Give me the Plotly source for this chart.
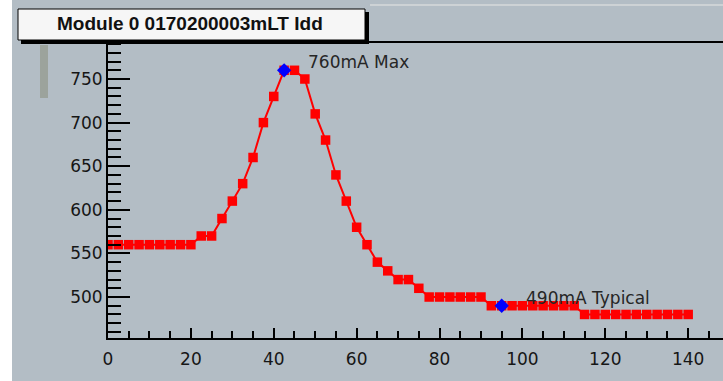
import plotly.graph_objects as go

# Idd current samples (mA) against time step
x_vals = [0, 2.5, 5, 7.5, 10, 12.5, 15, 17.5, 20, 22.5, 25, 27.5, 30, 32.5, 35,
          37.5, 40, 42.5, 45, 47.5, 50, 52.5, 55, 57.5, 60, 62.5, 65, 67.5, 70,
          72.5, 75, 77.5, 80, 82.5, 85, 87.5, 90, 92.5, 95, 97.5, 100, 102.5,
          105, 107.5, 110, 112.5, 115, 117.5, 120, 122.5, 125, 127.5, 130,
          132.5, 135, 137.5, 140]
idd_ma = [560, 560, 560, 560, 560, 560, 560, 560, 560, 570, 570, 590, 610, 630,
          660, 700, 730, 760, 760, 750, 710, 680, 640, 610, 580, 560, 540, 530,
          520, 520, 510, 500, 500, 500, 500, 500, 500, 490, 490, 490, 490, 490,
          490, 490, 490, 490, 480, 480, 480, 480, 480, 480, 480, 480, 480, 480,
          480]

# Highlighted points and their labels
mark_x = [42.5, 95]
mark_y = [760, 490]
mark_text = ["760mA Max", "490mA Typical"]

title_text = "Module 0 0170200003mLT Idd"
y_ticks = [500, 550, 600, 650, 700, 750]
x_ticks = [0, 20, 40, 60, 80, 100, 120, 140]

W, H = 723, 381
L, R, T, B = 108, 0, 43, 43
PW, PH = W - L - R, H - T - B


def px(xpix):
    return (xpix - L) / PW


def py(ypix):
    return 1 - (ypix - T) / PH


BG = "#b3bdc5"
FONT = "DejaVu Sans"

fig = go.Figure()
fig.add_trace(go.Scatter(
    x=x_vals, y=idd_ma, mode="lines+markers",
    line=dict(color="#ff0000", width=2),
    marker=dict(symbol="square", size=9.5, color="#ff0000"),
    showlegend=False, hoverinfo="skip",
))
fig.add_trace(go.Scatter(
    x=mark_x, y=mark_y, mode="markers",
    marker=dict(symbol="diamond", size=11, color="#0000ff"),
    showlegend=False, hoverinfo="skip",
))

annotations = []
for mx, my, txt in zip(mark_x, mark_y, mark_text):
    annotations.append(dict(
        x=mx, y=my, xref="x", yref="y", text=txt, showarrow=False,
        xanchor="left", yanchor="middle", xshift=22, yshift=8,
        font=dict(family=FONT, size=17, color="#262626"),
    ))

# title inside a framed box
annotations.append(dict(
    x=px(190), y=py(24), xref="paper", yref="paper",
    text="<b>" + title_text + "</b>",
    showarrow=False, xanchor="center", yanchor="middle",
    font=dict(family="Liberation Sans", size=19, color="#111111"),
))

shapes = [
    # white strip at the left edge
    dict(type="rect", xref="paper", yref="paper", x0=px(0), x1=px(12),
         y0=py(0), y1=py(H), fillcolor="#ffffff", line=dict(width=0),
         layer="above"),
    # faint separator near the top
    dict(type="line", xref="paper", yref="paper", x0=px(370), x1=px(W),
         y0=py(5), y1=py(5), line=dict(color="#cdd2d5", width=2)),
    # scroll grip
    dict(type="rect", xref="paper", yref="paper", x0=px(40), x1=px(48),
         y0=py(45), y1=py(98), fillcolor="#9ca39c", line=dict(width=0)),
    # title box shadow
    dict(type="rect", xref="paper", yref="paper", x0=px(21), x1=px(369),
         y0=py(12), y1=py(44), fillcolor="#000000", line=dict(width=0)),
    # title box
    dict(type="rect", xref="paper", yref="paper", x0=px(18), x1=px(365),
         y0=py(9), y1=py(40), fillcolor="#f6f6f6",
         line=dict(color="#000000", width=1)),
]

fig.update_layout(
    width=W, height=H,
    margin=dict(l=L, r=R, t=T, b=B, pad=0),
    paper_bgcolor=BG, plot_bgcolor=BG,
    annotations=annotations, shapes=shapes,
    font=dict(family=FONT, size=17, color="#1a1a1a"),
)
fig.update_xaxes(
    range=[0, 148.4], showgrid=False, zeroline=False,
    showline=True, linecolor="#000000", linewidth=2, mirror=True,
    tickmode="array", tickvals=x_ticks,
    ticks="inside", ticklen=10, tickwidth=2, tickcolor="#000000",
    ticklabelstandoff=5,
    minor=dict(dtick=5, tick0=0, ticks="inside", ticklen=7, tickwidth=2,
               tickcolor="#000000", showgrid=False),
    tickfont=dict(family=FONT, size=17, color="#161616"),
)
fig.update_yaxes(
    range=[453, 791.3], showgrid=False, zeroline=False,
    showline=True, linecolor="#000000", linewidth=2,
    tickmode="array", tickvals=y_ticks,
    ticks="inside", ticklen=22, tickwidth=2, tickcolor="#000000",
    minor=dict(dtick=10, tick0=0, ticks="inside", ticklen=13, tickwidth=2,
               tickcolor="#000000", showgrid=False),
    tickfont=dict(family=FONT, size=17, color="#161616"),
)

fig.write_html("out.html")
